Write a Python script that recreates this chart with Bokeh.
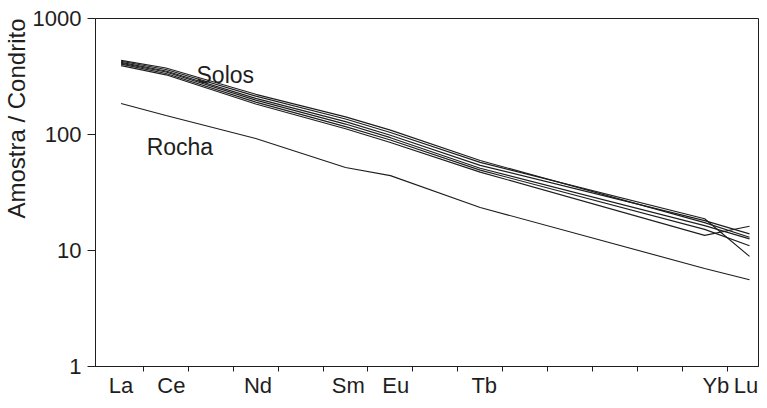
from bokeh.plotting import figure
from bokeh.models import FixedTicker, Range1d, Title, Label, NumeralTickFormatter
from bokeh.embed import file_html
from bokeh.resources import INLINE

# ---- data -------------------------------------------------------------
elements = ["La", "Ce", "Pr", "Nd", "Pm", "Sm", "Eu", "Gd", "Tb",
            "Dy", "Ho", "Er", "Tm", "Yb", "Lu"]
measured = ["La", "Ce", "Nd", "Sm", "Eu", "Tb", "Yb", "Lu"]

solo_1 = [436, 374, 222, 142, 109, 59.7, 17.4, 13.0]
solo_2 = [428, 363, 214, 136, 104, 57.5, 18.8, 8.9]
solo_3 = [419, 353, 205, 129, 98.6, 54.2, 18.1, 13.9]
solo_4 = [411, 346, 198, 123, 93.9, 51.2, 16.4, 12.6]
solo_5 = [404, 336, 190, 117, 89.6, 49.3, 15.2, 11.0]
solo_6 = [392, 327, 183, 112, 85.3, 47.4, 13.5, 16.2]
rocha = [185, 146, 92.5, 51.9, 44.2, 23.5, 7.0, 5.6]

y_ticks = [1, 10, 100, 1000]
y_title = "Amostra / Condrito"
solos_label = "Solos"
rocha_label = "Rocha"

# ---- layout -----------------------------------------------------------
FONT = "Liberation Sans"
INK = "#1e1e1e"
label_shift = {"La": 0.0, "Ce": 0.12, "Nd": 0.05, "Sm": 0.06,
               "Eu": 0.12, "Tb": 0.09, "Yb": 0.25, "Lu": -0.08}

pos = {e: i + 1 for i, e in enumerate(elements)}
xs = [pos[e] for e in measured]

p = figure(width=759, height=400, y_axis_type="log",
           x_range=Range1d(0.43, 15.2), y_range=Range1d(1, 1000),
           output_backend="svg", toolbar_location=None,
           min_border_left=92, min_border_right=1,
           min_border_top=18, min_border_bottom=20)
p.background_fill_color = "white"
p.border_fill_color = "white"
p.grid.visible = False
p.outline_line_color = INK
p.outline_line_width = 1

for series in [solo_1, solo_2, solo_3, solo_4, solo_5, solo_6]:
    p.line(xs, series, line_color=INK, line_width=1.15)
p.line(xs, rocha, line_color=INK, line_width=1.1)

# x axis: names at (shifted) element positions, tick marks between bins
lab_pos = [pos[e] + label_shift[e] for e in measured]
xa = p.xaxis[0]
xa.ticker = FixedTicker(ticks=lab_pos,
                        minor_ticks=[i + 0.5 for i in range(1, len(elements))])
xa.major_label_overrides = {lp: e for lp, e in zip(lab_pos, measured)}
xa.major_tick_out = 0
xa.major_tick_in = 0
xa.major_tick_line_color = None
xa.minor_tick_out = 5
xa.minor_tick_in = 0
xa.minor_tick_line_color = INK
xa.axis_line_color = INK
xa.major_label_standoff = 1
xa.major_label_text_font = FONT
xa.major_label_text_font_size = "22px"
xa.major_label_text_color = INK
xa.major_label_text_line_height = 0.9

ya = p.yaxis[0]
ya.ticker = FixedTicker(ticks=y_ticks)
ya.formatter = NumeralTickFormatter(format="0")
ya.major_tick_out = 8
ya.major_tick_in = 0
ya.minor_tick_line_color = None
ya.major_tick_line_color = INK
ya.axis_line_color = INK
ya.major_label_standoff = 6
ya.major_label_text_font = FONT
ya.major_label_text_font_size = "22px"
ya.major_label_text_color = INK

p.add_layout(Title(text=y_title, align="right", text_font=FONT,
                   text_font_size="24px", text_font_style="normal",
                   text_color=INK, standoff=0, text_line_height=0.9), "left")

p.add_layout(Label(x=pos["Ce"] + 0.68, y=326, text=solos_label,
                   text_font=FONT, text_font_size="23px", text_color=INK,
                   text_baseline="alphabetic"))
p.add_layout(Label(x=pos["La"] + 0.57, y=78.3, text=rocha_label,
                   text_font=FONT, text_font_size="23px", text_color=INK,
                   text_baseline="alphabetic"))

open("out.html", "w").write(file_html(p, INLINE))
